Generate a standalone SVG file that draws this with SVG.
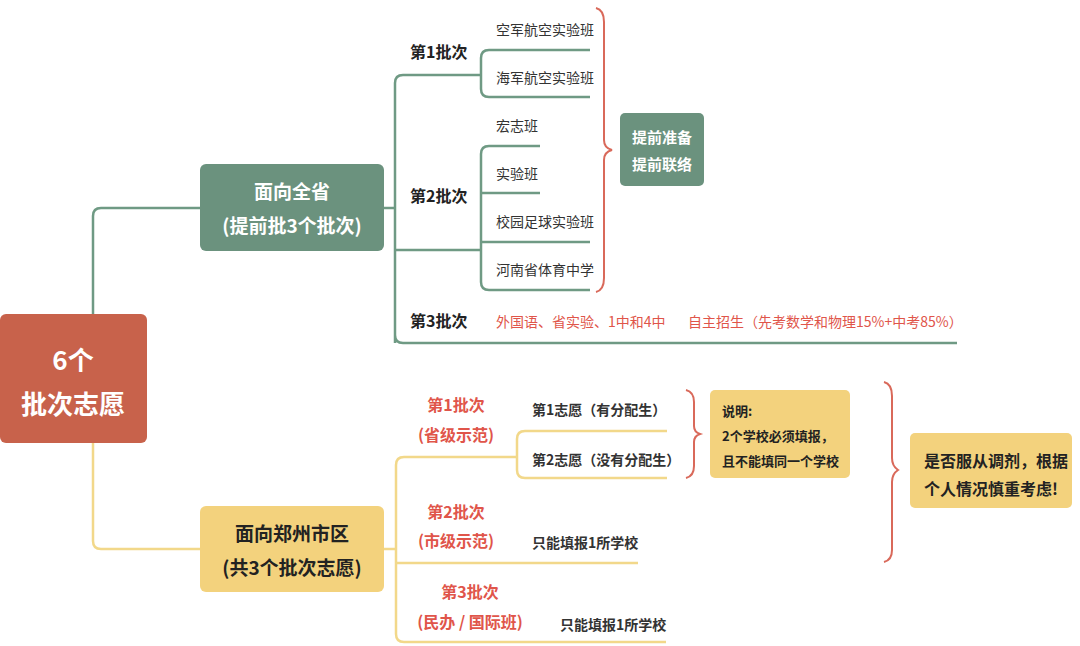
<svg xmlns="http://www.w3.org/2000/svg" width="1080" height="646" viewBox="0 0 1080 646">
<style>
text{font-family:"Noto Sans CJK SC","Noto Sans",sans-serif}
.g{fill:none;stroke:#6f9a84;stroke-width:2.5}
.y{fill:none;stroke:#f2d88a;stroke-width:2.5}
.br{fill:none;stroke:#d9695a;stroke-width:2}
.t{font-size:14px;fill:#333}
.b{font-size:16px;font-weight:bold;fill:#222}
.r{font-size:16px;font-weight:bold;fill:#e0554a;text-anchor:middle}
.rs{font-size:14px;fill:#e0554a}
.w{fill:#fff;font-weight:bold;text-anchor:middle}
.d{fill:#222;font-weight:bold;text-anchor:middle}
</style>
<rect width="1080" height="646" fill="#fff"/>
<g id="connectors">
<path class="g" d="M93 314V216Q93 208 101 208H200M384 208H395M395 343V83Q395 75 403 75H481M395 250H481M395 335Q395 343 403 343H957"/>
<path class="g" d="M481 58Q481 50 489 50H590M481 58V89Q481 97 489 97H590"/>
<path class="g" d="M481 154Q481 146 489 146H540M481 154V282Q481 290 489 290H590M481 193H540M481 242H590"/>
<path class="y" d="M93 443V541Q93 549 101 549H200M384 549H396M396 465Q396 457 404 457H517M396 465V634Q396 642 404 642H666M396 563H638"/>
<path class="y" d="M517 439Q517 431 525 431H667M517 439V470Q517 478 525 478H667"/>
<path class="br" d="M596 8Q604 10 604 22V140Q604 148 612 150Q604 152 604 160V278Q604 290 596 292"/>
<path class="br" d="M686 390Q694 392 694 402V426Q694 432 700 434Q694 436 694 442V466Q694 476 686 478"/>
<path class="br" d="M884 382Q892 384 892 396V458Q892 466 898 470Q892 474 892 482V550Q892 560 884 562"/>
</g>
<g id="root"><rect x="0" y="314" width="147" height="129" rx="6" fill="#c8624b"/>
<text class="w" x="73" y="370" font-size="26">6个</text><text class="w" x="73" y="414" font-size="26">批次志愿</text></g>
<g id="province"><rect x="200" y="164" width="184" height="87" rx="6" fill="#6b927e"/>
<text class="w" x="292" y="199" font-size="19">面向全省</text><text class="w" x="292" y="233" font-size="19">(提前批3个批次)</text></g>
<g id="city"><rect x="200" y="506" width="184" height="86" rx="6" fill="#f3d27d"/>
<text class="d" x="292" y="541" font-size="19">面向郑州市区</text><text class="d" x="292" y="575" font-size="19">(共3个批次志愿)</text></g>
<g id="p1"><text class="b" x="410" y="58">第1批次</text>
<text class="t" x="496" y="35">空军航空实验班</text><text class="t" x="496" y="83">海军航空实验班</text></g>
<g id="p2"><text class="b" x="410" y="202">第2批次</text>
<text class="t" x="496" y="131">宏志班</text><text class="t" x="496" y="179">实验班</text><text class="t" x="496" y="227">校园足球实验班</text><text class="t" x="496" y="275">河南省体育中学</text></g>
<g id="p3"><text class="b" x="410" y="327">第3批次</text>
<text class="rs" x="496" y="327">外国语、省实验、1中和4中</text><text class="rs" x="688" y="327">自主招生（先考数学和物理15%+中考85%）</text></g>
<g id="prep"><rect x="620" y="113" width="84" height="73" rx="5" fill="#6b927e"/>
<text class="w" x="662" y="143" font-size="15">提前准备</text><text class="w" x="662" y="170" font-size="15">提前联络</text></g>
<g id="c1"><text class="r" x="456" y="411">第1批次</text><text class="r" x="456" y="441">(省级示范)</text>
<text class="t" x="532" y="415" font-weight="bold">第1志愿（有分配生）</text><text class="t" x="532" y="465" font-weight="bold">第2志愿（没有分配生）</text></g>
<g id="c2"><text class="r" x="456" y="518">第2批次</text><text class="r" x="456" y="547">(市级示范)</text>
<text class="t" x="532" y="548" font-weight="bold">只能填报1所学校</text></g>
<g id="c3"><text class="r" x="470" y="598">第3批次</text><text class="r" x="470" y="628">(民办 / 国际班)</text>
<text class="t" x="560" y="630" font-weight="bold">只能填报1所学校</text></g>
<g id="note"><rect x="710" y="390" width="140" height="88" rx="5" fill="#f3d27d"/>
<text x="722" y="416" font-size="13" font-weight="bold" fill="#222">说明:</text>
<text x="722" y="441" font-size="13" font-weight="bold" fill="#222">2个学校必须填报，</text>
<text x="722" y="466" font-size="13" font-weight="bold" fill="#222">且不能填同一个学校</text></g>
<g id="advice"><rect x="910" y="433" width="162" height="75" rx="5" fill="#f3d27d"/>
<text x="924" y="467" font-size="16" font-weight="bold" fill="#222">是否服从调剂，根据</text>
<text x="924" y="495" font-size="16" font-weight="bold" fill="#222">个人情况慎重考虑!</text></g>
</svg>
